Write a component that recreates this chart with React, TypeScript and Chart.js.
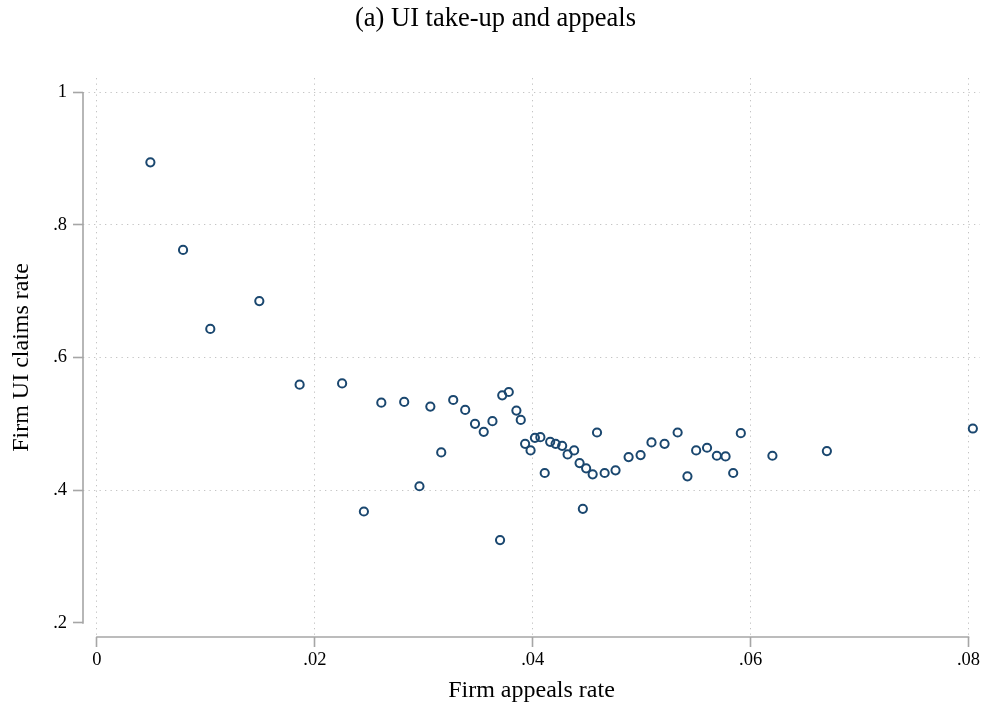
/**
 * UI take-up vs. firm appeals rate — Stata-style binned scatter drawn with Chart.js.
 */
import React, { useEffect, useRef } from 'react';
import { Chart, registerables } from 'chart.js';

Chart.register(...registerables);

// Firm appeals rate (x) and firm UI claims rate (y), one entry per bin
const appealsRate = [
  0.0049, 0.0079, 0.0104, 0.0149, 0.0186, 0.0225, 0.0261, 0.0282, 0.0306, 0.0327,
  0.0338, 0.0347, 0.0355, 0.0363, 0.0372, 0.0378, 0.0385, 0.0389, 0.0393, 0.0398,
  0.0402, 0.0407, 0.0416, 0.0421, 0.0427, 0.0432, 0.0438, 0.0411, 0.0443, 0.0449,
  0.0455, 0.0459, 0.0466, 0.0476, 0.0488, 0.0499, 0.0509, 0.0521, 0.0533, 0.0542,
  0.0550, 0.0560, 0.0569, 0.0577, 0.0584, 0.0591, 0.0620, 0.0670, 0.0804, 0.0245,
  0.0296, 0.0316, 0.0370, 0.0446,
];
const claimsRate = [
  0.894, 0.762, 0.643, 0.685, 0.559, 0.561, 0.532, 0.533, 0.526, 0.536,
  0.521, 0.500, 0.488, 0.504, 0.543, 0.548, 0.520, 0.506, 0.470, 0.460,
  0.479, 0.480, 0.473, 0.470, 0.467, 0.454, 0.460, 0.426, 0.441, 0.433,
  0.424, 0.487, 0.426, 0.430, 0.450, 0.453, 0.472, 0.470, 0.487, 0.421,
  0.460, 0.464, 0.452, 0.451, 0.426, 0.486, 0.452, 0.459, 0.493, 0.368,
  0.406, 0.457, 0.325, 0.372,
];

const xTicks = [0, 0.02, 0.04, 0.06, 0.08];
const xTickLabels = ['0', '.02', '.04', '.06', '.08'];
const yTicks = [0.2, 0.4, 0.6, 0.8, 1];
const yTickLabels = ['.2', '.4', '.6', '.8', '1'];

const FONT = "'Liberation Serif', 'Times New Roman', serif";
const MARKER = '#1a476f';
const AXIS = '#a6a6a6';
const GRID = '#c4c4c4';

// Stata draws the axis line only over the ticked range
const axisLinePlugin = {
  id: 'axisLines',
  beforeDatasetsDraw(chart: any) {
    const { ctx, chartArea, scales } = chart;
    const x = scales.x;
    const y = scales.y;
    ctx.save();
    ctx.strokeStyle = AXIS;
    ctx.lineWidth = 1.6;
    ctx.beginPath();
    ctx.moveTo(chartArea.left, y.getPixelForValue(yTicks[0]) + 0.8);
    ctx.lineTo(chartArea.left, y.getPixelForValue(yTicks[yTicks.length - 1]));
    ctx.moveTo(x.getPixelForValue(xTicks[0]) - 0.8, chartArea.bottom);
    ctx.lineTo(x.getPixelForValue(xTicks[xTicks.length - 1]) + 0.8, chartArea.bottom);
    ctx.stroke();
    ctx.restore();
  },
};

const App: React.FC = () => {
  const canvasRef = useRef<HTMLCanvasElement>(null);

  useEffect(() => {
    if (!canvasRef.current) return;

    const points = appealsRate.map((v, i) => ({ x: v, y: claimsRate[i] }));

    const chart = new Chart(canvasRef.current, {
      type: 'scatter',
      data: {
        datasets: [{
          data: points,
          pointStyle: 'circle',
          pointRadius: 4.1,
          pointBorderWidth: 2,
          pointBorderColor: MARKER,
          pointBackgroundColor: 'rgba(255,255,255,0)',
        }],
      },
      options: {
        responsive: false,
        animation: false,
        layout: { autoPadding: false, padding: { left: 7, right: 0, top: 0, bottom: 0 } },
        plugins: {
          legend: { display: false },
          tooltip: { enabled: false },
          title: {
            display: true,
            text: '(a) UI take-up and appeals',
            color: '#000',
            font: { family: FONT, size: 26.5, weight: 'normal' },
            padding: { top: 3.5, bottom: 42.7 },
          },
        },
        scales: {
          x: {
            type: 'linear',
            min: -0.001285,
            max: 0.081056,
            afterBuildTicks: (scale: any) => {
              scale.ticks = xTicks.map((v) => ({ value: v }));
            },
            afterFit: (scale: any) => {
              scale.height = 71;
              scale.paddingLeft = 0;
              scale.paddingRight = 4;
            },
            ticks: {
              padding: 2.4,
              color: '#000',
              font: { family: FONT, size: 18.5 },
              maxRotation: 0,
              callback: (value: any) => xTickLabels[xTicks.indexOf(Number(value))] ?? '',
            },
            grid: {
              color: GRID,
              lineWidth: 1,
              drawTicks: true,
              tickLength: 10,
              tickColor: AXIS,
              tickWidth: 1.6,
            },
            border: { display: false, dash: [1.3, 4.2] },
            title: {
              display: true,
              text: 'Firm appeals rate',
              color: '#000',
              font: { family: FONT, size: 24 },
              padding: { top: 0, bottom: 3.3 },
            },
          },
          y: {
            type: 'linear',
            min: 0.1789,
            max: 1.0211,
            afterBuildTicks: (scale: any) => {
              scale.ticks = yTicks.map((v) => ({ value: v }));
            },
            afterFit: (scale: any) => { scale.width = 76; },
            ticks: {
              padding: 6,
              color: '#000',
              font: { family: FONT, size: 18.5 },
              callback: (value: any) => yTickLabels[yTicks.indexOf(Number(value))] ?? '',
            },
            grid: {
              // no grid line at the bottom tick
              color: (ctx: any) => (ctx.tick && ctx.tick.value === yTicks[0] ? 'rgba(0,0,0,0)' : GRID),
              lineWidth: 1,
              drawTicks: true,
              tickLength: 10,
              tickColor: AXIS,
              tickWidth: 1.6,
            },
            border: { display: false, dash: [1.3, 4.2] },
            title: {
              display: true,
              text: 'Firm UI claims rate',
              color: '#000',
              font: { family: FONT, size: 24 },
              padding: { top: 0, bottom: 0 },
            },
          },
        },
      },
      plugins: [axisLinePlugin],
    } as any);

    return () => {
      chart.destroy();
    };
  }, []);

  return (
    <div style={{ position: 'fixed', left: 0, top: 0, width: 984, height: 708, background: '#fff' }}>
      <canvas ref={canvasRef} width={984} height={708} style={{ display: 'block' }} />
    </div>
  );
};

export default App;
